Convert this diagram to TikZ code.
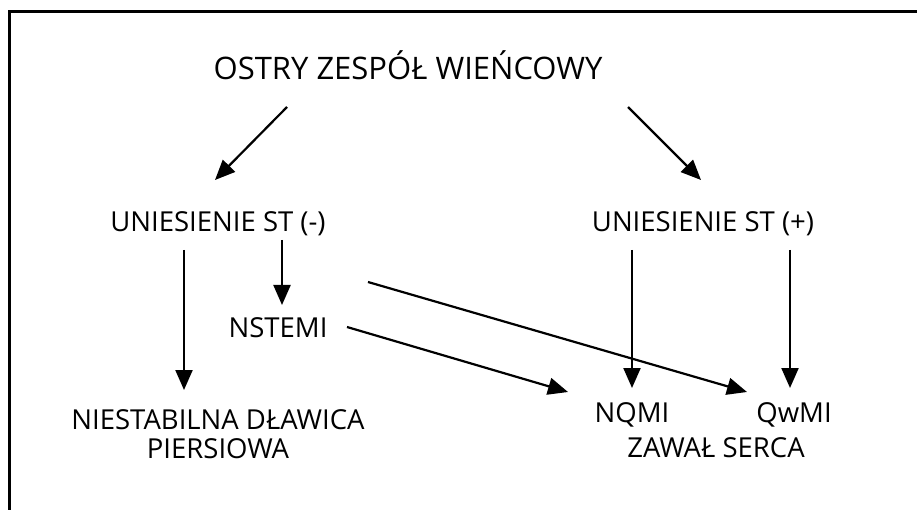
\documentclass[tikz,border=0pt]{standalone}
\usepackage{fontspec}
\setmainfont{Open Sans}
\usetikzlibrary{arrows.meta}
\begin{document}
\begin{tikzpicture}[x=1pt,y=-1pt,
  lbl/.style={anchor=base,inner sep=0pt,font=\fontsize{27.5}{29}\selectfont},
  heading/.style={anchor=base,inner sep=0pt,font=\fontsize{31}{36}\selectfont},
  arr/.style={line width=2.2pt,-{Triangle[length=20pt,width=17pt]}},
  frame/.style={line width=3pt}]
\useasboundingbox (0,0) rectangle (917,510);
\clip (0,0) rectangle (917,510);
% frame, open towards the lower right
\draw[frame] (9,530) -- (9,12) -- (940,12);

% labels
\node[heading] (acs) at (408,80) {OSTRY ZESPÓŁ WIEŃCOWY};
\node[lbl] (stm) at (218,232) {UNIESIENIE ST (-)};
\node[lbl] (stp) at (703,232) {UNIESIENIE ST (+)};
\node[lbl] (nst) at (278,337) {NSTEMI};
\node[lbl,anchor=north,align=center] (uap) at (218,409) {NIESTABILNA DŁAWICA\\PIERSIOWA};
\node[lbl] (nq) at (632,422) {NQMI};
\node[lbl] (qw) at (794,422) {QwMI};
\node[lbl] (mi) at (716,457) {ZAWAŁ SERCA};

% connectors
\draw[arr] ([shift={(-121,27)}]acs.base) -- ([shift={(-3,-52)}]stm.base);
\draw[arr] ([shift={(220,27)}]acs.base) -- ([shift={(-2,-52)}]stp.base);
\draw[arr] ([shift={(-34,18)}]stm.base) -- ([shift={(-34,-19)}]uap.north);
\draw[arr] ([shift={(64,8)}]stm.base) -- ([shift={(4,-32)}]nst.base);
\draw[arr] ([shift={(150,50)}]stm.base) -- ([shift={(-47,-30)}]qw.base);
\draw[arr] ([shift={(69,-10)}]nst.base) -- ([shift={(-64,-30)}]nq.base);
\draw[arr] ([shift={(-71,18)}]stp.base) -- ([shift={(0,-34)}]nq.base);
\draw[arr] ([shift={(87,18)}]stp.base) -- ([shift={(-4,-34)}]qw.base);
\end{tikzpicture}
\end{document}
